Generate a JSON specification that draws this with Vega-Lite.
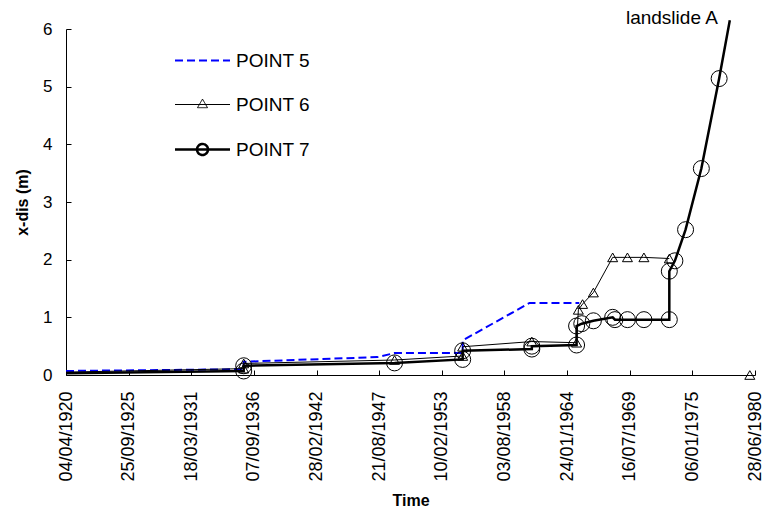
{
  "$schema": "https://vega.github.io/schema/vega-lite/v6.json",
  "width": 689,
  "height": 346,
  "autosize": {"type": "none"},
  "padding": {"left": 66, "top": 29, "right": 11, "bottom": 134},
  "background": "white",
  "config": {
    "view": {"stroke": null},
    "font": "Liberation Sans",
    "axis": {"domainColor": "black", "tickColor": "black", "labelColor": "black", "titleColor": "black", "grid": false, "labelFont": "Liberation Sans", "titleFont": "Liberation Sans"}
  },
  "datasets": {
    "obs": [
      {"idx": 1, "series": "POINT 5", "date": "1920-04-04", "x_dis": 0.07},
      {"idx": 2, "series": "POINT 5", "date": "1935-10-17", "x_dis": 0.10},
      {"idx": 3, "series": "POINT 5", "date": "1935-10-17", "x_dis": 0.23},
      {"idx": 4, "series": "POINT 5", "date": "1947-06-21", "x_dis": 0.31},
      {"idx": 5, "series": "POINT 5", "date": "1948-12-24", "x_dis": 0.38},
      {"idx": 6, "series": "POINT 5", "date": "1954-12-08", "x_dis": 0.38},
      {"idx": 7, "series": "POINT 5", "date": "1954-12-08", "x_dis": 0.60},
      {"idx": 8, "series": "POINT 5", "date": "1960-10-14", "x_dis": 1.25},
      {"idx": 9, "series": "POINT 5", "date": "1965-02-16", "x_dis": 1.25},
      {"idx": 10, "series": "POINT 6", "date": "1920-04-04", "x_dis": 0.05},
      {"idx": 11, "series": "POINT 6", "date": "1935-10-17", "x_dis": 0.11},
      {"idx": 12, "series": "POINT 6", "date": "1935-10-17", "x_dis": 0.20},
      {"idx": 13, "series": "POINT 6", "date": "1948-12-24", "x_dis": 0.26},
      {"idx": 14, "series": "POINT 6", "date": "1954-12-08", "x_dis": 0.33},
      {"idx": 15, "series": "POINT 6", "date": "1954-12-08", "x_dis": 0.49},
      {"idx": 16, "series": "POINT 6", "date": "1960-12-24", "x_dis": 0.58},
      {"idx": 17, "series": "POINT 6", "date": "1964-11-22", "x_dis": 0.56},
      {"idx": 18, "series": "POINT 6", "date": "1965-01-18", "x_dis": 1.13},
      {"idx": 19, "series": "POINT 6", "date": "1965-06-01", "x_dis": 1.23},
      {"idx": 20, "series": "POINT 6", "date": "1966-05-12", "x_dis": 1.43},
      {"idx": 21, "series": "POINT 6", "date": "1968-01-18", "x_dis": 2.04},
      {"idx": 22, "series": "POINT 6", "date": "1969-05-04", "x_dis": 2.04},
      {"idx": 23, "series": "POINT 6", "date": "1970-10-12", "x_dis": 2.04},
      {"idx": 24, "series": "POINT 6", "date": "1972-12-31", "x_dis": 2.02},
      {"idx": 25, "series": "POINT 6", "date": "1976-06-01", "x_dis": null},
      {"idx": 26, "series": "POINT 6", "date": "1980-01-14", "x_dis": 0},
      {"idx": 27, "series": "POINT 7", "date": "1920-04-04", "x_dis": 0.03},
      {"idx": 28, "series": "POINT 7", "date": "1935-10-17", "x_dis": 0.07},
      {"idx": 29, "series": "POINT 7", "date": "1935-10-17", "x_dis": 0.16},
      {"idx": 30, "series": "POINT 7", "date": "1948-12-24", "x_dis": 0.21},
      {"idx": 31, "series": "POINT 7", "date": "1954-12-08", "x_dis": 0.27},
      {"idx": 32, "series": "POINT 7", "date": "1954-12-08", "x_dis": 0.42},
      {"idx": 33, "series": "POINT 7", "date": "1960-12-24", "x_dis": 0.45},
      {"idx": 34, "series": "POINT 7", "date": "1960-12-24", "x_dis": 0.50},
      {"idx": 35, "series": "POINT 7", "date": "1964-11-22", "x_dis": 0.52},
      {"idx": 36, "series": "POINT 7", "date": "1964-11-22", "x_dis": 0.85},
      {"idx": 37, "series": "POINT 7", "date": "1965-05-07", "x_dis": 0.89},
      {"idx": 38, "series": "POINT 7", "date": "1966-05-12", "x_dis": 0.94},
      {"idx": 39, "series": "POINT 7", "date": "1968-01-18", "x_dis": 1.00},
      {"idx": 40, "series": "POINT 7", "date": "1968-03-31", "x_dis": 0.96},
      {"idx": 41, "series": "POINT 7", "date": "1969-05-04", "x_dis": 0.96},
      {"idx": 42, "series": "POINT 7", "date": "1970-10-12", "x_dis": 0.96},
      {"idx": 43, "series": "POINT 7", "date": "1972-12-31", "x_dis": 0.96},
      {"idx": 44, "series": "POINT 7", "date": "1972-12-31", "x_dis": 1.80},
      {"idx": 45, "series": "POINT 7", "date": "1973-06-27", "x_dis": 1.98},
      {"idx": 46, "series": "POINT 7", "date": "1974-06-03", "x_dis": 2.52},
      {"idx": 47, "series": "POINT 7", "date": "1975-10-20", "x_dis": 3.58},
      {"idx": 48, "series": "POINT 7", "date": "1977-05-10", "x_dis": 5.14},
      {"idx": 49, "series": "POINT 7", "date": "1978-04-16", "x_dis": 6.15}
    ],
    "note": [
      {"label": "landslide A", "date": "1977-03-30", "x_dis": 6.08}
    ]
  },
  "data": {"name": "obs"},
  "encoding": {
    "x": {
      "field": "date", "type": "temporal",
      "scale": {"type": "utc", "nice": false, "domain": [{"year": 1920, "month": 4, "date": 4, "utc": true}, {"year": 1980, "month": 6, "date": 28, "utc": true}]},
      "axis": {
        "values": [
          {"year": 1920, "month": 4, "date": 4, "utc": true},
          {"year": 1925, "month": 9, "date": 25, "utc": true},
          {"year": 1931, "month": 3, "date": 18, "utc": true},
          {"year": 1936, "month": 9, "date": 7, "utc": true},
          {"year": 1942, "month": 2, "date": 28, "utc": true},
          {"year": 1947, "month": 8, "date": 21, "utc": true},
          {"year": 1953, "month": 2, "date": 10, "utc": true},
          {"year": 1958, "month": 8, "date": 3, "utc": true},
          {"year": 1964, "month": 1, "date": 24, "utc": true},
          {"year": 1969, "month": 7, "date": 16, "utc": true},
          {"year": 1975, "month": 1, "date": 6, "utc": true},
          {"year": 1980, "month": 6, "date": 28, "utc": true}
        ],
        "labelExpr": "utcFormat(datum.value, '%d/%m/%Y')",
        "labelAngle": -90,
        "labelFontSize": 18,
        "labelOverlap": false,
        "labelFlush": false,
        "tickSize": -5,
        "labelPadding": 21,
        "title": "Time",
        "titleFontSize": 16,
        "titleFontWeight": "bold",
        "titlePadding": 11
      }
    },
    "y": {
      "field": "x_dis", "type": "quantitative",
      "scale": {"domain": [0, 6], "nice": false, "zero": true},
      "axis": {
        "values": [0, 1, 2, 3, 4, 5, 6],
        "format": "d",
        "labelFontSize": 17,
        "tickSize": -5,
        "labelPadding": 19,
        "title": "x-dis (m)",
        "titleFontSize": 16,
        "titleFontWeight": "bold",
        "titlePadding": 12
      }
    }
  },
  "layer": [
    {
      "transform": [{"filter": "datum.series === 'POINT 5'"}],
      "mark": {"type": "line", "stroke": "#0000ff", "strokeWidth": 2, "strokeDash": [8, 4], "clip": false},
      "encoding": {"order": {"field": "idx", "type": "quantitative"}}
    },
    {
      "transform": [{"filter": "datum.series === 'POINT 6'"}],
      "mark": {"type": "line", "stroke": "black", "strokeWidth": 1, "invalid": "break-paths-show-domains", "clip": false},
      "encoding": {"order": {"field": "idx", "type": "quantitative"}}
    },
    {
      "transform": [{"filter": "datum.series === 'POINT 7'"}],
      "mark": {"type": "line", "stroke": "black", "strokeWidth": 2.5, "clip": false},
      "encoding": {"order": {"field": "idx", "type": "quantitative"}}
    },
    {
      "transform": [{"filter": "datum.series !== 'POINT 5' && isValid(datum.x_dis) && datum.x_dis <= 6 && year(datum.date) > 1920"}],
      "mark": {"type": "point", "filled": false, "stroke": "black", "opacity": 1, "clip": false},
      "encoding": {
        "size": {"condition": {"test": "datum.series === 'POINT 7'", "value": 256}, "value": 100},
        "shape": {"condition": {"test": "datum.series === 'POINT 6'", "value": "triangle-up"}, "value": "circle"},
        "strokeWidth": {"value": 1},
        "fill": {
          "field": "series", "type": "nominal",
          "scale": {"domain": ["POINT 5", "POINT 6", "POINT 7"], "range": ["transparent", "transparent", "transparent"]},
          "legend": {
            "title": null, "orient": "none", "legendX": 127, "legendY": 22,
            "symbolSize": 1600, "symbolOpacity": 1, "symbolFillColor": "transparent",
            "symbolType": {"expr": "datum.value === 'POINT 5' ? 'M-1.375,0L1.375,0' : datum.value === 'POINT 6' ? 'M-1.375,0L1.375,0M0,-0.27L0.25,0.16L-0.25,0.16Z' : 'M-1.375,0L1.375,0M0.275,0A0.275,0.275,0,1,1,-0.275,0A0.275,0.275,0,1,1,0.275,0Z'"},
            "symbolStrokeColor": {"expr": "datum.value === 'POINT 5' ? '#0000ff' : 'black'"},
            "symbolDash": {"expr": "datum.value === 'POINT 5' ? [8, 4] : [1, 0]"},
            "symbolStrokeWidth": {"expr": "datum.value === 'POINT 5' ? 2 : datum.value === 'POINT 6' ? 1 : 2.5"},
            "labelFontSize": 19, "labelFont": "Liberation Sans", "labelColor": "black",
            "labelOffset": 24, "rowPadding": 24, "padding": 0
          }
        }
      }
    },
    {
      "data": {"name": "note"},
      "mark": {"type": "text", "align": "right", "baseline": "alphabetic", "fontSize": 19, "font": "Liberation Sans", "color": "black", "clip": false},
      "encoding": {
        "text": {"field": "label", "type": "nominal"}
      }
    }
  ]
}
